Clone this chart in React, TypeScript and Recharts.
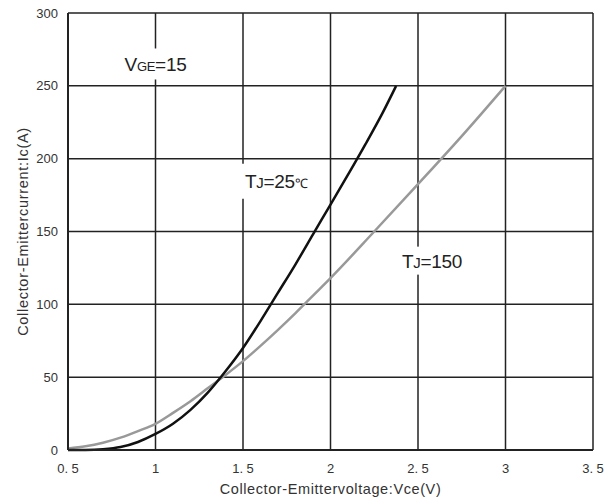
import React from "react";
import { LineChart, Line, XAxis, YAxis, CartesianGrid, ReferenceDot } from "recharts";

const xTicks = [0.5, 1, 1.5, 2, 2.5, 3, 3.5];
const xTickLabels = ["0. 5", "1", "1. 5", "2", "2. 5", "3", "3. 5"];
const yTicks = [0, 50, 100, 150, 200, 250, 300];

const vce25 = [0.5, 0.6, 0.7, 0.8, 0.9, 1.0, 1.1, 1.2, 1.3, 1.4, 1.5, 1.6, 1.7, 1.8, 1.9, 2.0, 2.1, 2.2, 2.3, 2.375];
const ic25 = [0, 0, 0.5, 2, 5.5, 11, 18, 27.5, 39.5, 54, 70, 88.5, 108, 127.5, 148, 168.5, 189, 210, 232, 250];

const vce150 = [0.5, 0.6, 0.7, 0.8, 0.9, 1.0, 1.1, 1.2, 1.3, 1.4, 1.5, 1.6, 1.7, 1.8, 1.9, 2.0, 2.25, 2.5, 2.75, 3.0];
const ic150 = [1, 2.5, 5, 8.5, 13, 18, 25.5, 33.5, 42.5, 51.5, 61, 71.5, 82.5, 94, 106, 118, 150, 182.5, 215.5, 250];

const data25 = vce25.map((v, i) => ({ x: v, y: ic25[i] }));
const data150 = vce150.map((v, i) => ({ x: v, y: ic150[i] }));

const FONT = "'Liberation Sans', Arial, sans-serif";

type Part = { t: string; size: number };

const makeLabel = (parts: Part[], anchor: "start" | "middle", boxW: number, boxH: number, boxDx: number) =>
  (props: any) => {
    const { cx, cy } = props;
    return (
      <g>
        <rect x={cx + boxDx} y={cy - boxH / 2} width={boxW} height={boxH} fill="#fff" />
        <text x={anchor === "middle" ? cx : cx + 2} y={cy + 7} textAnchor={anchor} fontFamily={FONT} fill="#222" letterSpacing={-0.3}>
          {parts.map((p, i) => (
            <tspan key={i} fontSize={p.size}>{p.t}</tspan>
          ))}
        </text>
      </g>
    );
  };

const vgeLabel = makeLabel([{ t: "V", size: 19 }, { t: "GE", size: 13 }, { t: "=15", size: 19 }], "middle", 70, 31, -35);
const tj25Label = makeLabel([{ t: "T", size: 19 }, { t: "J", size: 15 }, { t: "=25", size: 19 }, { t: "℃", size: 13 }], "start", 72, 35, -2);
const tj150Label = makeLabel([{ t: "T", size: 19 }, { t: "J", size: 15 }, { t: "=150", size: 19 }], "middle", 62, 28, -31);

export default function App() {
  return (
    <div style={{ position: "absolute", left: 0, top: 0, background: "#fff" }}>
      <LineChart width={612} height={502} margin={{ top: 13, right: 19, bottom: 8, left: 0 }}>
        <CartesianGrid stroke="#222" strokeWidth={1.5} />
        <XAxis
          type="number"
          dataKey="x"
          domain={[0.5, 3.5]}
          ticks={xTicks}
          tickFormatter={(v: number) => xTickLabels[xTicks.indexOf(v)] ?? String(v)}
          height={44}
          tickLine={false}
          tickMargin={8}
          axisLine={{ stroke: "#222", strokeWidth: 2 }}
          tick={{ fontSize: 13, fill: "#333", fontFamily: FONT }}
          allowDataOverflow
          label={{ value: "Collector-Emittervoltage:Vce(V)", position: "center", dy: 17, fontSize: 14.5, letterSpacing: 0.6, fill: "#333", fontFamily: FONT }}
        />
        <YAxis
          type="number"
          domain={[0, 300]}
          ticks={yTicks}
          width={68}
          tickLine={false}
          tickMargin={4}
          axisLine={{ stroke: "#222", strokeWidth: 2 }}
          tick={{ fontSize: 13, fill: "#333", fontFamily: FONT }}
          label={{ value: "Collector-Emittercurrent:Ic(A)", angle: -90, position: "center", dx: -11, fontSize: 14.5, letterSpacing: 0.7, fill: "#333", fontFamily: FONT }}
        />
        <Line data={data150} dataKey="y" type="monotone" stroke="#999" strokeWidth={2.5} dot={false} isAnimationActive={false} />
        <Line data={data25} dataKey="y" type="monotone" stroke="#111" strokeWidth={2.5} dot={false} isAnimationActive={false} />
        <ReferenceDot x={1} y={265} r={0} shape={vgeLabel} ifOverflow="visible" />
        <ReferenceDot x={1.5} y={184.5} r={0} shape={tj25Label} ifOverflow="visible" />
        <ReferenceDot x={2.58} y={130} r={0} shape={tj150Label} ifOverflow="visible" />
      </LineChart>
    </div>
  );
}
